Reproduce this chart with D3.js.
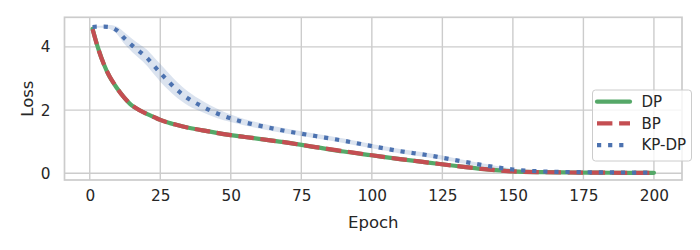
<!DOCTYPE html>
<html>
<head>
<meta charset="utf-8">
<script src="https://cdn.jsdelivr.net/npm/d3@7"></script>
<style>
  body { margin: 0; background: #fff; }
  svg { display: block; font-family: "DejaVu Sans", sans-serif; }
</style>
</head>
<body>
<script>
var epochs = [1, 3, 5, 7, 9, 10, 12, 15, 18, 20, 23, 25, 28, 30, 35, 40, 45, 50, 55, 60,
              70, 80, 90, 100, 110, 120, 130, 140, 150, 160, 170, 180, 190, 200];

var dpLoss = [4.57, 3.95, 3.45, 3.06, 2.78, 2.65, 2.42, 2.14, 1.98, 1.89, 1.77, 1.69, 1.60, 1.55,
              1.44, 1.36, 1.28, 1.21, 1.15, 1.09, 0.97, 0.83, 0.69, 0.57, 0.45, 0.34, 0.23, 0.13,
              0.06, 0.035, 0.025, 0.02, 0.015, 0.015];

var bpLoss = [4.56, 3.94, 3.45, 3.07, 2.79, 2.65, 2.42, 2.15, 1.98, 1.89, 1.77, 1.69, 1.60, 1.55,
              1.44, 1.36, 1.28, 1.21, 1.15, 1.09, 0.97, 0.83, 0.70, 0.57, 0.45, 0.34, 0.23, 0.13,
              0.06, 0.035, 0.025, 0.02, 0.015, 0.015];

var kpLoss = [4.63, 4.64, 4.64, 4.63, 4.56, 4.50, 4.30, 4.05, 3.83, 3.68, 3.38, 3.18, 2.90, 2.72,
              2.36, 2.11, 1.90, 1.74, 1.61, 1.51, 1.33, 1.18, 1.03, 0.86, 0.70, 0.57, 0.41, 0.25,
              0.12, 0.06, 0.04, 0.03, 0.025, 0.02];

// half width of the shaded band round KP-DP
var kpErr = [0.03, 0.03, 0.04, 0.06, 0.10, 0.13, 0.18, 0.21, 0.23, 0.25, 0.27, 0.28, 0.27, 0.26,
             0.22, 0.18, 0.15, 0.12, 0.10, 0.09, 0.08, 0.07, 0.07, 0.07, 0.07, 0.07, 0.06, 0.05,
             0.03, 0.02, 0.01, 0.01, 0.01, 0.01];

var xTicks = [0, 25, 50, 75, 100, 125, 150, 175, 200];
var yTicks = [0, 2, 4];

var seriesNames = ["DP", "BP", "KP-DP"];
var seriesColors = ["#55a868", "#c44e52", "#4c72b0"];
var seriesDash = [null, "15.4,6.7", "4.2,6.9"];

var width = 700, height = 250;
var mLeft = 64.5, mRight = 682, mTop = 17.3, mBottom = 180;

var svg = d3.select("body").append("svg")
    .attr("width", width)
    .attr("height", height);

var x = d3.scaleLinear().domain([-8.95, 209.95]).range([mLeft, mRight]);
var y = d3.scaleLinear().domain([-0.212, 4.937]).range([mBottom, mTop]);

// grid
var grid = svg.append("g");
grid.selectAll("line.vx")
    .data(xTicks).enter().append("line")
    .attr("x1", function(d) { return x(d); })
    .attr("x2", function(d) { return x(d); })
    .attr("y1", mTop).attr("y2", mBottom)
    .attr("stroke", "#cccccc").attr("stroke-width", 1.4);
grid.selectAll("line.hy")
    .data(yTicks).enter().append("line")
    .attr("y1", function(d) { return y(d); })
    .attr("y2", function(d) { return y(d); })
    .attr("x1", mLeft).attr("x2", mRight)
    .attr("stroke", "#cccccc").attr("stroke-width", 1.4);

var rows = epochs.map(function(e, i) {
  return { e: e, dp: dpLoss[i], bp: bpLoss[i], kp: kpLoss[i], err: kpErr[i] };
});

var plot = svg.append("g");

// band
plot.append("path")
    .datum(rows)
    .attr("fill", "#4c72b0")
    .attr("fill-opacity", 0.2)
    .attr("d", d3.area()
      .curve(d3.curveMonotoneX)
      .x(function(d) { return x(d.e); })
      .y0(function(d) { return y(d.kp - d.err); })
      .y1(function(d) { return y(d.kp + d.err); }));

var keys = ["dp", "bp", "kp"];
keys.forEach(function(k, i) {
  plot.append("path")
    .datum(rows)
    .attr("fill", "none")
    .attr("stroke", seriesColors[i])
    .attr("stroke-width", 4.2)
    .attr("stroke-linecap", i == 0 ? "round" : "butt")
    .attr("stroke-dasharray", seriesDash[i])
    .attr("d", d3.line()
      .curve(d3.curveMonotoneX)
      .x(function(d) { return x(d.e); })
      .y(function(d) { return y(d[k]); }));
});

// spines
svg.append("rect")
    .attr("x", mLeft).attr("y", mTop)
    .attr("width", mRight - mLeft).attr("height", mBottom - mTop)
    .attr("fill", "none")
    .attr("stroke", "#cccccc").attr("stroke-width", 1.7);

// axes, with no tick marks as in the whitegrid style
var xAxis = svg.append("g")
    .attr("transform", "translate(0," + mBottom + ")")
    .call(d3.axisBottom(x).tickValues(xTicks).tickFormat(d3.format("d")).tickSize(0).tickPadding(10));
var yAxis = svg.append("g")
    .attr("transform", "translate(" + mLeft + ",0)")
    .call(d3.axisLeft(y).tickValues(yTicks).tickFormat(d3.format("d")).tickSize(0).tickPadding(14));
[xAxis, yAxis].forEach(function(a) {
  a.select(".domain").remove();
  a.selectAll("text")
    .attr("fill", "#262626")
    .style("font-size", "15.3px")
    .style("font-family", "DejaVu Sans, sans-serif");
});

svg.append("text")
    .attr("x", (mLeft + mRight) / 2)
    .attr("y", 228)
    .attr("text-anchor", "middle")
    .attr("fill", "#262626")
    .style("font-size", "16.5px")
    .text("Epoch");

svg.append("text")
    .attr("transform", "translate(33," + ((mTop + mBottom) / 2) + ") rotate(-90)")
    .attr("text-anchor", "middle")
    .attr("fill", "#262626")
    .style("font-size", "16.5px")
    .text("Loss");

// legend
var legend = svg.append("g");
legend.append("rect")
    .attr("x", 592.5).attr("y", 90)
    .attr("width", 99).attr("height", 71)
    .attr("rx", 3)
    .attr("fill", "#ffffff").attr("fill-opacity", 0.8)
    .attr("stroke", "#cccccc").attr("stroke-width", 1);

var items = legend.selectAll("g.item")
    .data(seriesNames).enter().append("g")
    .attr("transform", function(d, i) { return "translate(0," + (101.7 + i * 21.7) + ")"; });
items.append("line")
    .attr("x1", 597).attr("x2", 630)
    .attr("stroke", function(d, i) { return seriesColors[i]; })
    .attr("stroke-width", 4.2)
    .attr("stroke-linecap", function(d, i) { return i == 0 ? "round" : "butt"; })
    .attr("stroke-dasharray", function(d, i) { return seriesDash[i]; });
items.append("text")
    .attr("x", 641.5)
    .attr("dy", "0.35em")
    .attr("fill", "#262626")
    .style("font-size", "15px")
    .text(function(d) { return d; });
</script>
</body>
</html>
